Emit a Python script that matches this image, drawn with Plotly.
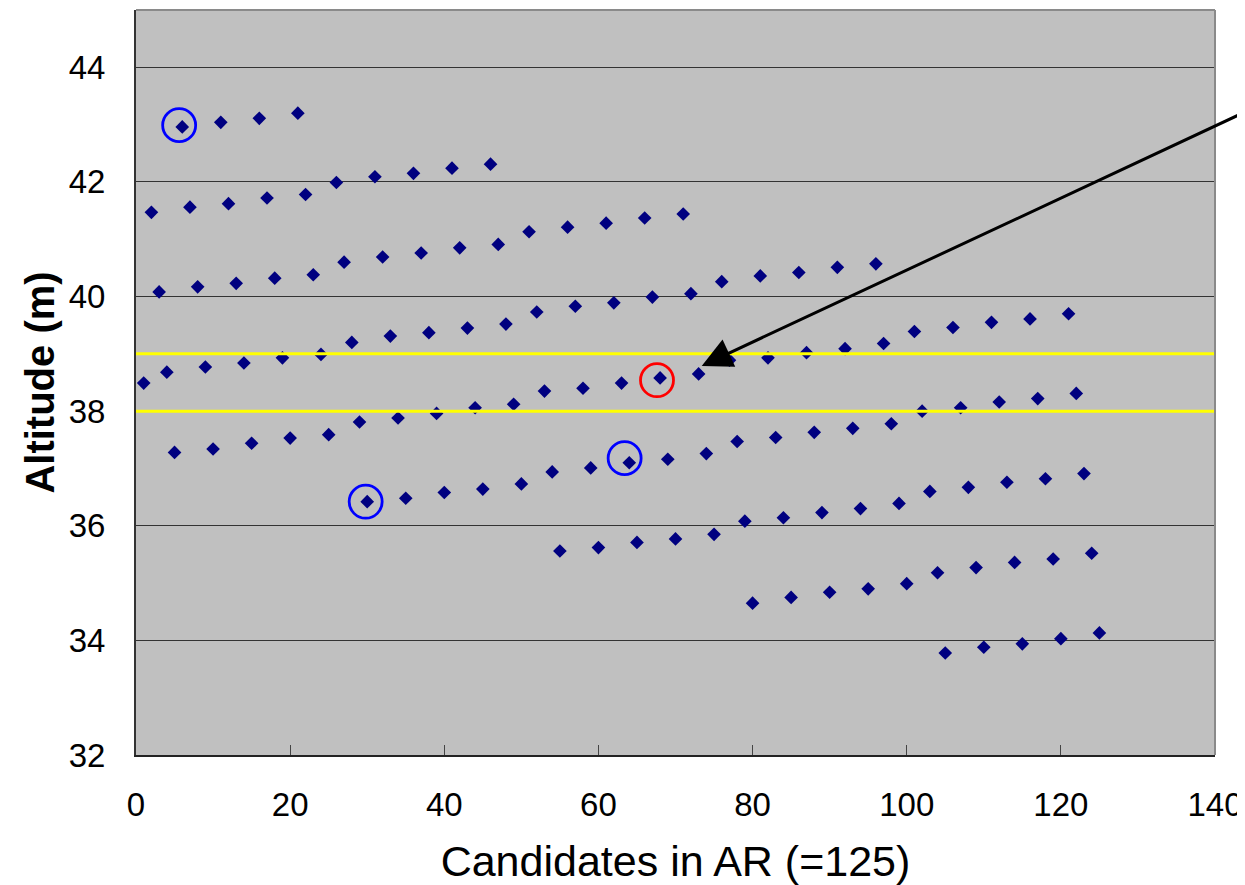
import plotly.graph_objects as go

# ---- data (candidate index, altitude in m) ----
row_a_x = [6, 11, 16, 21]
row_a_y = [42.96, 43.04, 43.11, 43.20]

row_b_x = [2, 7, 12, 17, 22, 26, 31, 36, 41, 46]
row_b_y = [41.47, 41.56, 41.62, 41.72, 41.78, 41.99, 42.09, 42.15, 42.24, 42.31]

row_c_x = [3, 8, 13, 18, 23, 27, 32, 37, 42, 47, 51, 56, 61, 66, 71]
row_c_y = [40.08, 40.17, 40.23, 40.32, 40.38, 40.60, 40.69, 40.76, 40.85, 40.91,
           41.13, 41.21, 41.28, 41.37, 41.44]

row_d_x = [1, 4, 9, 14, 19, 24, 28, 33, 38, 43, 48, 52, 57, 62, 67, 72, 76, 81, 86, 91, 96]
row_d_y = [38.49, 38.68, 38.77, 38.84, 38.93, 38.99, 39.20, 39.31, 39.37, 39.45, 39.52,
           39.73, 39.83, 39.89, 39.99, 40.05, 40.26, 40.36, 40.42, 40.51, 40.57]

row_e_x = [5, 10, 15, 20, 25, 29, 34, 39, 44, 49, 53, 58, 63, 68, 73, 77, 82, 87, 92, 97,
           101, 106, 111, 116, 121]
row_e_y = [37.28, 37.34, 37.44, 37.53, 37.59, 37.81, 37.88, 37.96, 38.06, 38.12,
           38.35, 38.40, 38.49, 38.58, 38.65, 38.89, 38.93, 39.02, 39.09, 39.18,
           39.39, 39.46, 39.55, 39.61, 39.70]

row_f_x = [30, 35, 40, 45, 50, 54, 59, 64, 69, 74, 78, 83, 88, 93, 98, 102, 107, 112, 117, 122]
row_f_y = [36.42, 36.48, 36.58, 36.64, 36.73, 36.94, 37.01, 37.10, 37.16, 37.26,
           37.47, 37.54, 37.63, 37.70, 37.78, 38.00, 38.06, 38.16, 38.22, 38.31]

row_g_x = [55, 60, 65, 70, 75, 79, 84, 89, 94, 99, 103, 108, 113, 118, 123]
row_g_y = [35.56, 35.62, 35.71, 35.77, 35.85, 36.08, 36.14, 36.23, 36.30, 36.39,
           36.60, 36.67, 36.76, 36.82, 36.91]

row_h_x = [80, 85, 90, 95, 100, 104, 109, 114, 119, 124]
row_h_y = [34.65, 34.75, 34.84, 34.90, 34.99, 35.18, 35.27, 35.36, 35.42, 35.52]

row_i_x = [105, 110, 115, 120, 125]
row_i_y = [33.78, 33.88, 33.94, 34.03, 34.13]

# highlighted candidates (circle centres)
blue_circle_x = [5.6, 29.8, 63.4]
blue_circle_y = [42.99, 36.42, 37.18]
red_circle_x = [67.6]
red_circle_y = [38.54]

# altitude band limits (yellow lines)
band_levels = [39.0, 38.0]

# arrow: head and tail positions
arrow_head = (73.4, 38.79)
arrow_tail = (143.9, 43.22)

x_ticks = [0, 20, 40, 60, 80, 100, 120, 140]
y_ticks = [32, 34, 36, 38, 40, 42, 44]

FONT = "Liberation Sans, Arial, sans-serif"

all_x = row_a_x + row_b_x + row_c_x + row_d_x + row_e_x + row_f_x + row_g_x + row_h_x + row_i_x
all_y = row_a_y + row_b_y + row_c_y + row_d_y + row_e_y + row_f_y + row_g_y + row_h_y + row_i_y

fig = go.Figure()
fig.add_trace(go.Scatter(
    x=all_x, y=all_y, mode="markers",
    marker=dict(symbol="diamond", size=10.5, color="#000080", line=dict(width=0)),
    showlegend=False, cliponaxis=False,
))
fig.add_trace(go.Scatter(
    x=blue_circle_x, y=blue_circle_y, mode="markers",
    marker=dict(symbol="circle-open", size=33, color="#0000FF", line=dict(width=2.8, color="#0000FF")),
    showlegend=False,
))
fig.add_trace(go.Scatter(
    x=red_circle_x, y=red_circle_y, mode="markers",
    marker=dict(symbol="circle-open", size=33, color="#FF0000", line=dict(width=2.8, color="#FF0000")),
    showlegend=False,
))

for lvl in band_levels:
    fig.add_shape(type="line", xref="paper", x0=0, x1=1, yref="y", y0=lvl, y1=lvl,
                  line=dict(color="#FFFF00", width=3), layer="above")

# top and right border of plot area
fig.add_shape(type="line", xref="paper", yref="paper", x0=0, x1=1, y0=1, y1=1,
              line=dict(color="#8a8a8a", width=2))
fig.add_shape(type="line", xref="paper", yref="paper", x0=1, x1=1, y0=0, y1=1,
              line=dict(color="#8a8a8a", width=2))

fig.add_annotation(
    x=arrow_head[0], y=arrow_head[1], xref="x", yref="y",
    ax=arrow_tail[0], ay=arrow_tail[1], axref="x", ayref="y",
    text="", showarrow=True, arrowhead=2, arrowsize=2.0, arrowwidth=3,
    arrowcolor="#000000", standoff=0,
)

# page body adds an 8px offset, so the figure is sized 8px smaller
fig.update_layout(
    width=1237, height=877,
    margin=dict(l=128, r=30, t=2, b=130),
    paper_bgcolor="white", plot_bgcolor="#C0C0C0",
    font=dict(family=FONT, color="black"),
    showlegend=False,
)
fig.update_xaxes(
    range=[0, 140], tickvals=x_ticks, ticks="inside", ticklen=10, tickwidth=1,
    tickcolor="#444444", showgrid=False, zeroline=False, automargin=False,
    showline=True, linecolor="#222222", linewidth=2,
    tickfont=dict(size=33, family=FONT, color="black"), ticklabelstandoff=19,
    title=dict(text="Candidates in AR (=125)", font=dict(size=43, family=FONT, color="black"), standoff=24),
)
fig.update_yaxes(
    range=[32, 45], tickvals=y_ticks, ticks="inside", ticklen=10, tickwidth=1,
    tickcolor="#333333", showgrid=True, gridcolor="#333333", gridwidth=1.3, zeroline=False,
    automargin=False,
    showline=True, linecolor="#333333", linewidth=2,
    tickfont=dict(size=33, family=FONT, color="black"), ticklabelstandoff=22,
    title=dict(text="Altitude (m)", font=dict(size=40, family=FONT, color="black", weight="bold"), standoff=2),
)

fig.write_html("out.html")
